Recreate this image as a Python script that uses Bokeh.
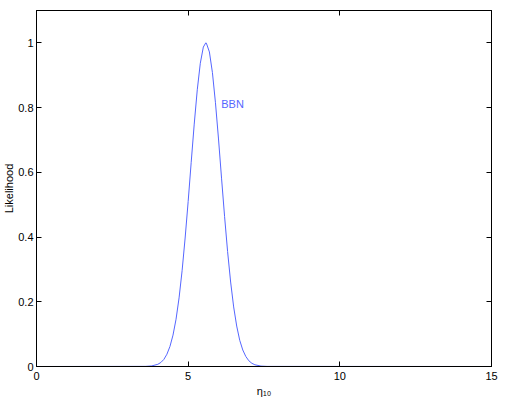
from bokeh.plotting import figure
from bokeh.models import Range1d, LinearAxis, FixedTicker, Label
from bokeh.embed import file_html
from bokeh.resources import INLINE

# Likelihood curve
eta = [0.0, 3.6, 3.8, 4.0, 4.1, 4.2, 4.3, 4.4, 4.5, 4.6, 4.7, 4.8, 4.9, 5.0, 5.1, 5.2, 5.3,
       5.4, 5.5, 5.58, 5.6, 5.7, 5.8, 5.9, 6.0, 6.1, 6.2, 6.3, 6.4, 6.5, 6.6, 6.7,
       6.8, 6.9, 7.0, 7.1, 7.2, 7.4, 7.6, 15.0]
likelihood = [0.0, 0.0004, 0.0018, 0.0068, 0.0125, 0.022, 0.038, 0.062, 0.097, 0.146, 0.212,
              0.296, 0.397, 0.510, 0.631, 0.749, 0.855, 0.937, 0.987, 1.0, 0.999, 0.972,
              0.908, 0.815, 0.703, 0.582, 0.464, 0.355, 0.261, 0.184, 0.125, 0.081,
              0.051, 0.031, 0.0177, 0.0099, 0.0053, 0.0013, 0.0003, 0.0]
x_ticks = [0, 5, 10, 15]
y_ticks = [0, 0.2, 0.4, 0.6, 0.8, 1.0]
series_label = "BBN"
y_title = "Likelihood"
x_title = "η₁₀"

BLUE = "#5566ff"
FONT = "Liberation Sans"

p = figure(width=500, height=399, output_backend="svg", toolbar_location=None,
           x_range=Range1d(0, 15), y_range=Range1d(0, 1.1),
           min_border_left=33, min_border_right=9, min_border_top=10, min_border_bottom=32,
           x_axis_location=None, y_axis_location=None)
p.grid.visible = False
p.outline_line_color = "black"
p.outline_line_width = 1
p.background_fill_color = "white"
p.border_fill_color = "white"


def style_axis(ax, ticks, labels=True):
    ax.major_tick_in = 5
    ax.major_tick_out = 0
    ax.minor_tick_line_color = None
    ax.axis_line_color = "black"
    ax.major_tick_line_color = "black"
    ax.major_label_text_font = FONT
    ax.major_label_text_font_size = "11px"
    ax.major_label_text_color = "black"
    ax.axis_label_text_font = FONT
    ax.axis_label_text_font_size = "11px"
    ax.axis_label_text_font_style = "normal"
    ax.axis_label_text_color = "black"
    ax.axis_label_standoff = 0
    if labels:
        ax.major_label_standoff = 5
    else:
        ax.major_label_standoff = 0
        ax.major_label_overrides = {t: "" for t in ticks}


xb = LinearAxis(ticker=FixedTicker(ticks=x_ticks), axis_label=x_title)
style_axis(xb, x_ticks)
xb.axis_label_standoff = 2
p.add_layout(xb, "below")
xt = LinearAxis(ticker=FixedTicker(ticks=x_ticks))
style_axis(xt, x_ticks, labels=False)
p.add_layout(xt, "above")
yl = LinearAxis(ticker=FixedTicker(ticks=y_ticks), axis_label=y_title)
style_axis(yl, y_ticks)
yl.major_label_standoff = 3
yl.major_label_overrides = {0: "0", 1: "1"}
p.add_layout(yl, "left")
yr = LinearAxis(ticker=FixedTicker(ticks=y_ticks))
style_axis(yr, y_ticks, labels=False)
p.add_layout(yr, "right")

p.line(eta, likelihood, line_color=BLUE, line_width=1)

p.add_layout(Label(x=6.09, y=0.811, text=series_label, text_color=BLUE, text_font=FONT,
                   text_font_size="11px", text_baseline="middle"))

open("out.html", "w").write(file_html(p, INLINE))
